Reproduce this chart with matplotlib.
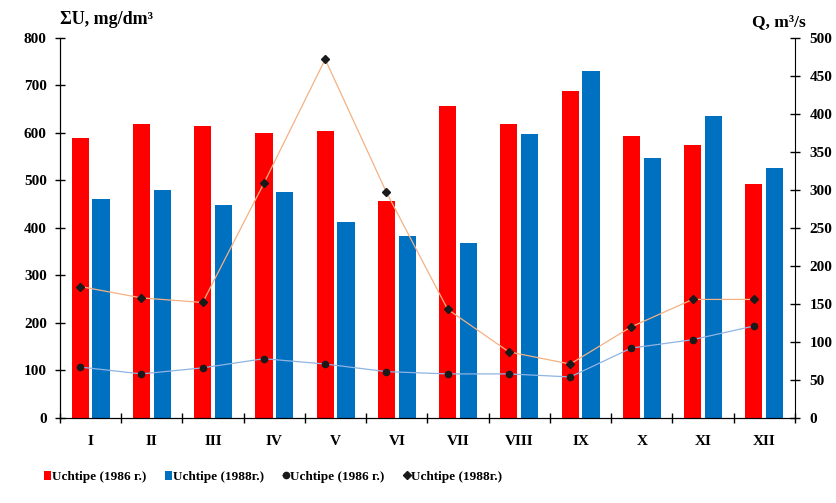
import numpy as np
import matplotlib.pyplot as plt

plt.rcParams['font.family'] = ['Liberation Serif', 'DejaVu Serif']
plt.rcParams['font.weight'] = 'bold'

months = ['I', 'II', 'III', 'IV', 'V', 'VI', 'VII', 'VIII', 'IX', 'X', 'XI', 'XII']
su_1986 = [590, 618, 614, 600, 605, 456, 656, 618, 688, 594, 574, 492]
su_1988 = [462, 481, 448, 475, 413, 384, 368, 597, 731, 547, 636, 527]
q_1986 = [67, 58, 66, 78, 71, 61, 58, 58, 54, 92, 103, 121]
q_1988 = [173, 158, 152, 309, 472, 297, 143, 87, 71, 120, 156, 156]

x = np.arange(len(months))
w = 0.28
off = 0.17

fig = plt.figure(figsize=(8.36, 5.03), dpi=100)
ax = fig.add_axes([0.0718, 0.169, 0.879, 0.7555])
b1 = ax.bar(x - off, su_1986, w, color='#ff0000', label='Uchtipe (1986 г.)', zorder=2)
b2 = ax.bar(x + off, su_1988, w, color='#0070c0', label='Uchtipe (1988г.)', zorder=2)
ax.set_ylim(0, 800)
ax.set_xlim(-0.5, 11.5)
ax.set_yticks(range(0, 801, 100))
ax.set_xticks(np.arange(-0.5, 12, 1))
ax.set_xticklabels([])
ax.set_xticks(x, minor=True)
ax.set_xticklabels(months, minor=True)
ax.tick_params(axis='x', which='minor', length=0, pad=12, labelsize=11)
ax.tick_params(axis='x', which='major', direction='inout', length=7, width=1)
ax.tick_params(axis='y', direction='inout', length=7, width=1, labelsize=11, pad=6)
ax.spines['top'].set_visible(False)
ax.spines['right'].set_visible(False)
ax.text(0.0, 1.025, 'ΣU, mg/dm³', transform=ax.transAxes, fontsize=13,
        fontweight='bold', ha='left', va='bottom')

ax2 = ax.twinx()
l1, = ax2.plot(x - off, q_1986, color='#8fb4e3', lw=0.9, marker='o', ms=4.5,
               mfc='#1a1a1a', mec='#1a1a1a', label='Uchtipe (1986 г.)', zorder=3)
l2, = ax2.plot(x - off, q_1988, color='#f4b183', lw=0.9, marker='D', ms=4,
               mfc='#1a1a1a', mec='#1a1a1a', label='Uchtipe (1988г.)', zorder=3)
ax2.set_ylim(0, 500)
ax2.set_yticks(range(0, 501, 50))
ax2.tick_params(axis='y', direction='inout', length=7, width=1, labelsize=11, pad=7)
ax2.spines['top'].set_visible(False)
ax2.text(1.015, 1.02, 'Q, m³/s', transform=ax2.transAxes, fontsize=12.5,
         fontweight='bold', ha='right', va='bottom')

fig.legend([b1, b2, l1, l2], [b1.get_label(), b2.get_label(), l1.get_label(), l2.get_label()],
           loc='center left', bbox_to_anchor=(0.045, 0.052), ncol=4, frameon=False,
           fontsize=9.5, handlelength=0.5, handletextpad=0.1, columnspacing=1.4,
           borderpad=0)

fig.savefig('out.png', dpi=100)
